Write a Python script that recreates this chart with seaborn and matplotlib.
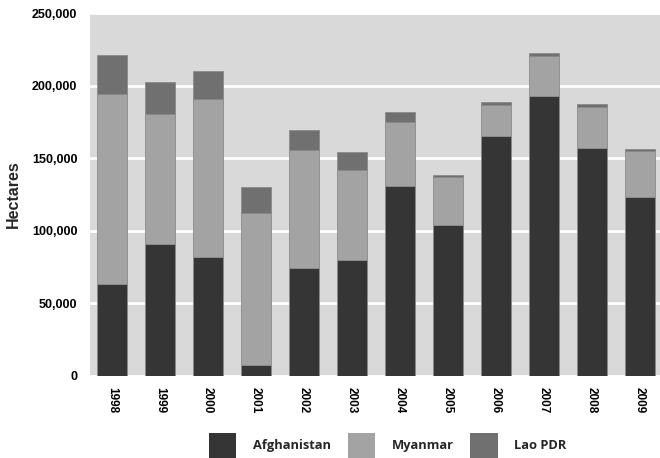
import numpy as np
import pandas as pd
import matplotlib
matplotlib.use("Agg")
import matplotlib.pyplot as plt
import seaborn as sns
from matplotlib.patches import Patch
from matplotlib.ticker import FuncFormatter

# Opium poppy cultivation (hectares)
years = ["1998", "1999", "2000", "2001", "2002", "2003",
         "2004", "2005", "2006", "2007", "2008", "2009"]
afghanistan = [63700, 90600, 82200, 7600, 74100, 80000,
               131000, 104000, 165000, 193000, 157000, 123000]
myanmar = [130300, 89500, 108700, 105000, 81400, 62200,
           44200, 32800, 21500, 27700, 28500, 31700]
lao_pdr = [26800, 22500, 19100, 17300, 14000, 12000,
           6600, 1800, 2500, 1500, 1600, 1900]

series = ["Afghanistan", "Myanmar", "Lao PDR"]
colors = ["#353535", "#a3a3a3", "#707070"]

sns.set_theme(style="darkgrid")
plt.rcParams["font.family"] = ["Liberation Sans", "DejaVu Sans"]

df = pd.DataFrame({"Year": years, "Afghanistan": afghanistan,
                   "Myanmar": myanmar, "Lao PDR": lao_pdr})

fig = plt.figure(figsize=(6.6, 4.58), dpi=100)
ax = fig.add_axes([90 / 660, 1 - 376 / 458, 570 / 660, 363 / 458])
ax.set_facecolor("#d9d9d9")

bottom = np.zeros(len(years))
for name, col in zip(series, colors):
    sns.barplot(data=df, x="Year", y=name, color=col, bottom=bottom,
                width=0.62, edgecolor="#8a8a8a", linewidth=0.6,
                saturation=1, ax=ax)
    bottom = bottom + df[name].to_numpy()

ax.set_xlim(-0.46, 11.42)
ax.set_ylim(0, 250000)
ax.set_yticks(np.arange(0, 250001, 50000))
ax.yaxis.set_major_formatter(FuncFormatter(lambda v, p: f"{int(v):,}"))
ax.grid(axis="y", color="white", linewidth=2)
ax.grid(axis="x", visible=False)
ax.set_axisbelow(True)
for s in ax.spines.values():
    s.set_visible(False)

ax.set_xlabel("")
ax.set_ylabel("Hectares", fontsize=11.5, fontweight="bold", labelpad=8)
ax.tick_params(axis="both", length=0, labelsize=9, colors="black")
for lab in ax.get_xticklabels():
    lab.set_rotation(-90)
    lab.set_fontweight("bold")
    lab.set_fontsize(8.5)
for lab in ax.get_yticklabels():
    lab.set_fontweight("bold")
ax.tick_params(axis="x", pad=8)
ax.tick_params(axis="y", pad=9)

handles = [Patch(facecolor=c, edgecolor="none", label=n) for n, c in zip(series, colors)]
fig.legend(handles=handles, loc="upper left", ncol=3, frameon=False,
           bbox_to_anchor=(209 / 660, 1 - 433 / 458), borderpad=0, borderaxespad=0,
           handlelength=2.1, handleheight=2.6,
           columnspacing=1.3, handletextpad=1.3,
           prop={"family": "Open Sans", "weight": "bold", "size": 9.3})

fig.savefig("out.png", dpi=100)
